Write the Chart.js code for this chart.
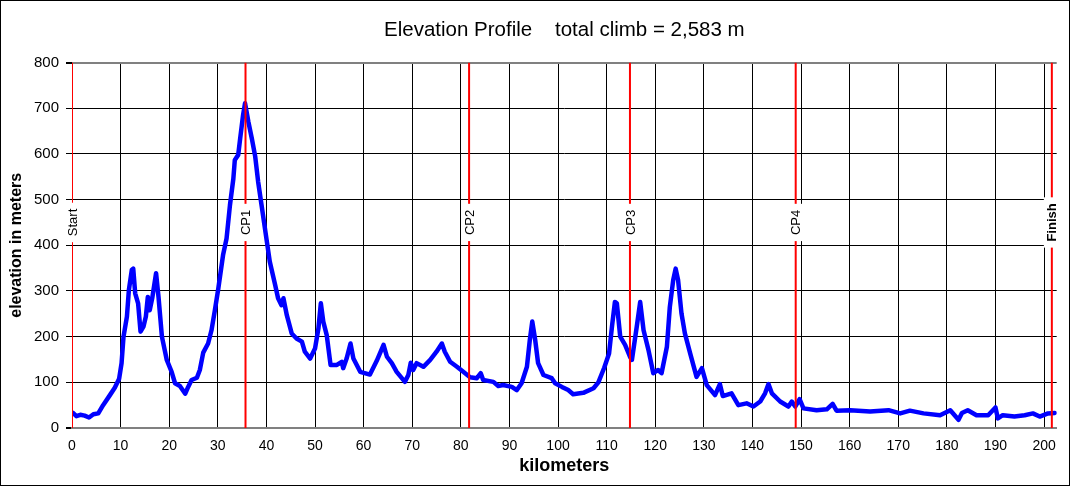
<!DOCTYPE html>
<html>
<head>
<meta charset="utf-8">
<title>Elevation Profile</title>
<script src="https://cdn.jsdelivr.net/npm/chart.js@4.4.1/dist/chart.umd.min.js"></script>
<style>
    body { margin: 0; background: #ffffff; }
    #wrap { width: 1070px; height: 486px; }
</style>
</head>
<body>
<div id="wrap"><canvas id="profileChart" width="1070" height="486"></canvas></div>
<script>
// distance along the route (km) and elevation read at each point (m)
const kmValues = [
    0.2, 0.9, 1.7, 2.6, 3.5, 4.4, 5.4, 6.4, 7.8, 8.8, 9.7, 10.2, 10.6, 11.3, 11.7, 12.3, 12.6, 13.0, 13.6, 14.1,
    14.7, 15.2, 15.6, 16.0, 16.5, 17.3, 17.8, 18.5, 19.5, 20.5, 21.2, 22.2, 23.3, 23.9, 24.6, 25.7, 26.3, 27.0, 28.0, 28.7,
    29.4, 30.1, 31.1, 31.8, 32.5, 33.2, 33.5, 34.2, 34.6, 35.2, 35.6, 36.3, 37.0, 37.7, 38.3, 39.0, 39.9, 40.7, 41.8, 42.4,
    43.1, 43.5, 44.2, 45.2, 46.2, 47.3, 47.9, 49.0, 50.0, 50.7, 51.2, 51.7, 52.4, 53.2, 54.5, 55.5, 55.8, 56.5, 57.3, 57.9,
    59.3, 61.3, 62.7, 64.1, 64.8, 65.8, 66.8, 68.5, 69.2, 69.7, 70.2, 70.9, 72.3, 73.7, 75.0, 76.1, 76.7, 77.8, 79.2, 80.5,
    81.9, 83.3, 84.1, 84.6, 86.7, 87.7, 88.7, 90.5, 91.5, 92.5, 93.6, 94.2, 94.7, 95.3, 95.9, 97.0, 98.7, 99.4, 100.8, 102.1,
    103.1, 105.2, 107.3, 108.3, 109.5, 110.5, 111.1, 111.7, 112.1, 112.8, 113.8, 114.8, 115.2, 116.2, 116.9, 117.6, 118.6, 119.6, 120.6, 121.3,
    122.4, 123.0, 123.7, 124.2, 124.7, 125.4, 126.1, 127.2, 128.5, 129.6, 130.6, 132.3, 133.3, 133.9, 135.7, 137.1, 138.8, 140.2, 141.6, 142.6,
    143.3, 144.0, 145.7, 147.4, 148.1, 148.8, 149.7, 150.5, 153.2, 155.3, 156.5, 157.3, 160.1, 164.2, 168.0, 170.4, 172.4, 175.2, 178.6, 180.7,
    182.4, 183.1, 184.3, 186.1, 188.5, 190.0, 190.5, 191.5, 193.9, 196.0, 197.7, 199.1, 200.8, 202.2
];
const elevValues = [
    33, 26, 29, 27, 23, 30, 32, 50, 72, 88, 108, 142, 200, 244, 302, 346, 349, 295, 273, 211,
    222, 244, 287, 258, 284, 339, 287, 200, 149, 123, 98, 92, 75, 90, 105, 110, 127, 165, 185, 214,
    258, 305, 380, 415, 488, 546, 587, 598, 634, 685, 711, 670, 634, 594, 539, 488, 422, 364, 313, 284,
    269, 284, 247, 207, 196, 189, 167, 152, 174, 218, 273, 233, 204, 138, 138, 145, 131, 152, 185, 152,
    123, 117, 147, 182, 156, 142, 123, 101, 116, 143, 127, 142, 134, 149, 167, 185, 167, 145, 134, 123,
    111, 109, 120, 105, 101, 92, 94, 90, 83, 98, 134, 193, 233, 193, 142, 116, 109, 98, 90, 83,
    74, 77, 87, 100, 132, 163, 222, 276, 273, 200, 182, 156, 149, 222, 276, 214, 171, 120, 127, 120,
    178, 265, 324, 349, 324, 251, 207, 163, 112, 131, 94, 72, 96, 70, 76, 50, 54, 47, 58, 76,
    96, 76, 58, 47, 58, 47, 63, 43, 39, 41, 53, 38, 39, 36, 39, 32, 38, 32, 28, 39,
    18, 33, 39, 28, 28, 45, 21, 28, 25, 28, 32, 25, 32, 33
];

// checkpoints (km) and their names
const checkpointKm = [0, 35.7, 81.7, 114.8, 148.9, 201.6];
const checkpointNames = ['Start', 'CP1', 'CP2', 'CP3', 'CP4', 'Finish'];

// axis ticks
const kmTicks = [0, 10, 20, 30, 40, 50, 60, 70, 80, 90, 100, 110, 120, 130, 140, 150, 160, 170, 180, 190, 200];
const elevTicks = [0, 100, 200, 300, 400, 500, 600, 700, 800];

const FONT = 'Arial, "Liberation Sans", sans-serif';

const profilePoints = kmValues.map((km, i) => ({ x: km, y: elevValues[i] }));

const checkpointSets = checkpointKm.map((km, i) => ({
    label: checkpointNames[i],
    data: [{ x: km, y: elevTicks[0] }, { x: km, y: elevTicks[elevTicks.length - 1] }],
    borderColor: '#ff0000',
    borderWidth: 2,
    pointRadius: 0,
    order: 0
}));

// white frame, outer border
const framePlugin = {
    id: 'frame',
    beforeDraw(chart) {
        const c = chart.ctx;
        c.save();
        c.fillStyle = '#ffffff';
        c.fillRect(0, 0, chart.width, chart.height);
        c.restore();
    },
    afterDraw(chart) {
        const c = chart.ctx;
        c.save();
        c.strokeStyle = '#000000';
        c.lineWidth = 1;
        c.strokeRect(0.5, 0.5, chart.width - 1, chart.height - 1);
        c.restore();
    }
};

// rotated checkpoint names on a white box over the red lines
const checkpointLabels = {
    id: 'checkpointLabels',
    afterDatasetsDraw(chart) {
        const c = chart.ctx;
        const xs = chart.scales.x;
        const ys = chart.scales.y;
        const cy = ys.getPixelForValue(450);
        c.save();
        checkpointNames.forEach((name, i) => {
            const cx = xs.getPixelForValue(checkpointKm[i]);
            const bold = name === 'Finish';
            c.font = (bold ? 'bold ' : '') + '13px ' + FONT;
            const w = c.measureText(name).width;
            c.fillStyle = '#ffffff';
            c.fillRect(cx - 8, cy - w / 2 - 6, 16, w + 12);
            c.translate(cx, cy);
            c.rotate(-Math.PI / 2);
            c.fillStyle = '#000000';
            c.textAlign = 'center';
            c.textBaseline = 'middle';
            c.fillText(name, 0, 1);
            c.setTransform(1, 0, 0, 1, 0, 0);
        });
        c.restore();
    }
};

const ctx = document.getElementById('profileChart').getContext('2d');

const chartConfig = {
    type: 'line',
    data: {
        datasets: [
            ...checkpointSets,
            {
                label: 'elevation',
                data: profilePoints,
                borderColor: '#0000ff',
                borderWidth: 4.5,
                borderJoinStyle: 'round',
                borderCapStyle: 'round',
                pointRadius: 0,
                tension: 0,
                order: 1
            }
        ]
    },
    options: {
        responsive: false,
        animation: false,
        layout: {
            padding: { left: 0, right: 13.3, top: 0, bottom: 0 }
        },
        plugins: {
            legend: { display: false },
            tooltip: { enabled: false },
            title: {
                display: true,
                fullSize: false,
                text: 'Elevation Profile    total climb = 2,583 m',
                color: '#000000',
                font: { family: FONT, size: 20.5, weight: 'normal', lineHeight: 1.2 },
                padding: { top: 18, bottom: 20 }
            }
        },
        scales: {
            x: {
                type: 'linear',
                min: 0,
                max: 202.6,
                afterBuildTicks: function(scale) {
                    scale.ticks = kmTicks.map(v => ({ value: v }));
                },
                afterFit: function(scale) {
                    scale.height = 58;
                },
                grid: {
                    color: '#000000',
                    lineWidth: 1,
                    drawTicks: false
                },
                border: { display: true, color: '#808080', width: 2 },
                ticks: {
                    color: '#000000',
                    padding: 10,
                    maxRotation: 0,
                    autoSkip: false,
                    font: { family: FONT, size: 14 }
                },
                title: {
                    display: true,
                    text: 'kilometers',
                    color: '#000000',
                    font: { family: FONT, size: 18, weight: 'bold', lineHeight: 1.2 },
                    padding: { top: 0, bottom: 9 }
                }
            },
            y: {
                min: 0,
                max: 800,
                afterBuildTicks: function(scale) {
                    scale.ticks = elevTicks.map(v => ({ value: v }));
                },
                afterFit: function(scale) {
                    scale.width = 72;
                },
                grid: {
                    color: ctx => (ctx.tick && (ctx.tick.value === 800 || ctx.tick.value === 0)) ? '#808080' : '#000000',
                    lineWidth: ctx => (ctx.tick && (ctx.tick.value === 800 || ctx.tick.value === 0)) ? 2 : 1,
                    tickColor: '#000000',
                    tickLength: 6
                },
                border: { display: false },
                ticks: {
                    color: '#000000',
                    padding: 7,
                    font: { family: FONT, size: 15 }
                },
                title: {
                    display: true,
                    text: 'elevation in meters',
                    color: '#000000',
                    font: { family: FONT, size: 16, weight: 'bold', lineHeight: 1.2 },
                    padding: { top: 7, bottom: 0 }
                }
            }
        }
    },
    plugins: [framePlugin, checkpointLabels]
};

let profileChart = new Chart(ctx, chartConfig);
</script>
</body>
</html>
